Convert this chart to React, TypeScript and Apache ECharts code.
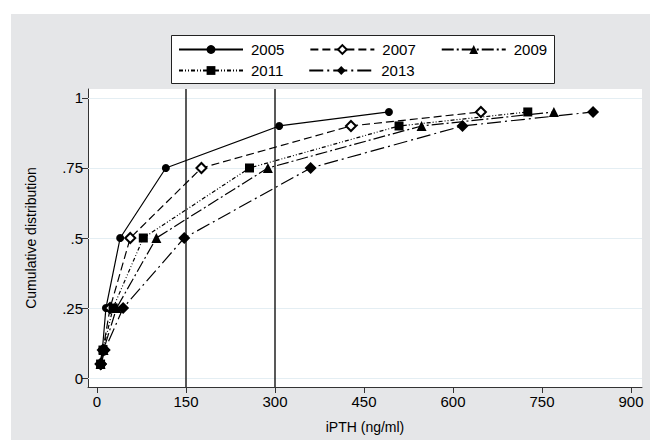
import React, { useEffect, useRef } from "react";
import * as echarts from "echarts";

const quantiles = [0.05, 0.1, 0.25, 0.5, 0.75, 0.9, 0.95];
const years = ["2005", "2007", "2009", "2011", "2013"];
const ipth2005 = [5, 9, 15, 39, 116, 307, 492];
const ipth2007 = [6, 10, 22, 56, 176, 428, 647];
const ipth2009 = [6, 11, 33, 100, 288, 547, 770];
const ipth2011 = [6, 10, 27, 78, 257, 509, 726];
const ipth2013 = [7, 13, 44, 147, 360, 616, 836];
const xTicks = [0, 150, 300, 450, 600, 750, 900];
const yTicks = [0, 0.25, 0.5, 0.75, 1];
const yTickLabels = ["0", ".25", ".5", ".75", "1"];
const refLines = [150, 300];

const FONT = "Liberation Sans, Arial, sans-serif";

export default function App() {
  const ref = useRef<HTMLDivElement>(null);
  useEffect(() => {
    if (!ref.current) return;
    const chart = echarts.init(ref.current, null, { renderer: "svg" });
    const values = [ipth2005, ipth2007, ipth2009, ipth2011, ipth2013];
    const symbols = ["circle", "emptyDiamond", "triangle", "rect", "diamond"];
    const sizes = [8, 10, 10, 9, 12];
    const dashes: any[] = [
      "solid",
      [8, 4],
      [12, 3, 2, 3],
      [4, 2, 1, 2, 1, 2],
      [14, 4, 2, 4],
    ];
    const series: any[] = years.map((y, i) => ({
      name: y,
      type: "line",
      data: values[i].map((v, j) => [v, quantiles[j]]),
      symbol: symbols[i],
      symbolSize: sizes[i],
      showSymbol: true,
      lineStyle: { color: "#000", width: 1.2, type: dashes[i] },
      itemStyle: { color: "#000", borderColor: "#000", borderWidth: i === 1 ? 1.3 : 0 },
      z: 5 + i,
    }));
    series.push({
      name: "grid",
      type: "line",
      data: [],
      silent: true,
      markLine: {
        silent: true,
        symbol: "none",
        label: { show: false },
        lineStyle: { color: "#e4eef3", width: 1, type: "solid" },
        data: yTicks.map((v) => ({ yAxis: v })),
      },
      z: 1,
    });
    series.push({
      name: "ref",
      type: "line",
      data: [],
      silent: true,
      markLine: {
        silent: true,
        symbol: "none",
        label: { show: false },
        lineStyle: { color: "#222", width: 1.5, type: "solid" },
        data: refLines.map((v) => ({ xAxis: v })),
      },
      z: 3,
    });
    const legendCommon = {
      orient: "horizontal",
      itemWidth: 64,
      itemHeight: 11,
      padding: 0,
      z: 20,
      selectedMode: false,
      textStyle: { fontFamily: FONT, fontSize: 15, color: "#000", padding: [0, 0, 0, 3] },
      itemGap: 25,
    };
    chart.setOption({
      animation: false,
      backgroundColor: "#fff",
      textStyle: { fontFamily: FONT },
      graphic: [
        {
          type: "rect",
          z: -100,
          silent: true,
          shape: { x: 11, y: 14, width: 639, height: 426 },
          style: { fill: "#e5e6e8" },
        },
        {
          type: "rect",
          z: 10,
          silent: true,
          shape: { x: 171.5, y: 35.5, width: 383, height: 48 },
          style: { fill: "#fff", stroke: "#222", lineWidth: 1 },
        },
      ],
      legend: [
        { ...legendCommon, data: years.slice(0, 3), left: 178, top: 42 },
        { ...legendCommon, data: years.slice(3), left: 178, top: 63 },
      ],
      grid: {
        left: 88,
        top: 89,
        width: 554,
        height: 298,
        show: true,
        backgroundColor: "#fff",
        borderWidth: 0,
        containLabel: false,
      },
      xAxis: {
        type: "value",
        min: -15.2,
        max: 918.5,
        name: "iPTH (ng/ml)",
        nameLocation: "middle",
        nameGap: 33,
        nameTextStyle: { fontFamily: FONT, fontSize: 14, color: "#000" },
        axisLine: { show: true, onZero: false, lineStyle: { color: "#333", width: 1 } },
        axisTick: { show: true, length: 6, customValues: xTicks, lineStyle: { color: "#333" } },
        axisLabel: {
          customValues: xTicks,
          margin: 7,
          fontFamily: FONT,
          fontSize: 15,
          color: "#000",
        },
        splitLine: { show: false },
      },
      yAxis: {
        type: "value",
        min: -0.032,
        max: 1.032,
        name: "Cumulative distribution",
        nameLocation: "middle",
        nameGap: 50,
        nameTextStyle: { fontFamily: FONT, fontSize: 14, color: "#000" },
        axisLine: { show: true, onZero: false, lineStyle: { color: "#333", width: 1 } },
        axisTick: { show: true, length: 6, customValues: yTicks, lineStyle: { color: "#333" } },
        axisLabel: {
          customValues: yTicks,
          margin: 5,
          fontFamily: FONT,
          fontSize: 15,
          color: "#000",
          formatter: (v: number) => {
            const idx = yTicks.findIndex((t) => Math.abs(t - v) < 1e-6);
            return idx >= 0 ? yTickLabels[idx] : "";
          },
        },
        splitLine: { show: false },
      },
      series,
    });
    return () => chart.dispose();
  }, []);
  return (
    <div
      ref={ref}
      style={{ position: "fixed", left: 0, top: 0, width: 650, height: 440 }}
    />
  );
}
